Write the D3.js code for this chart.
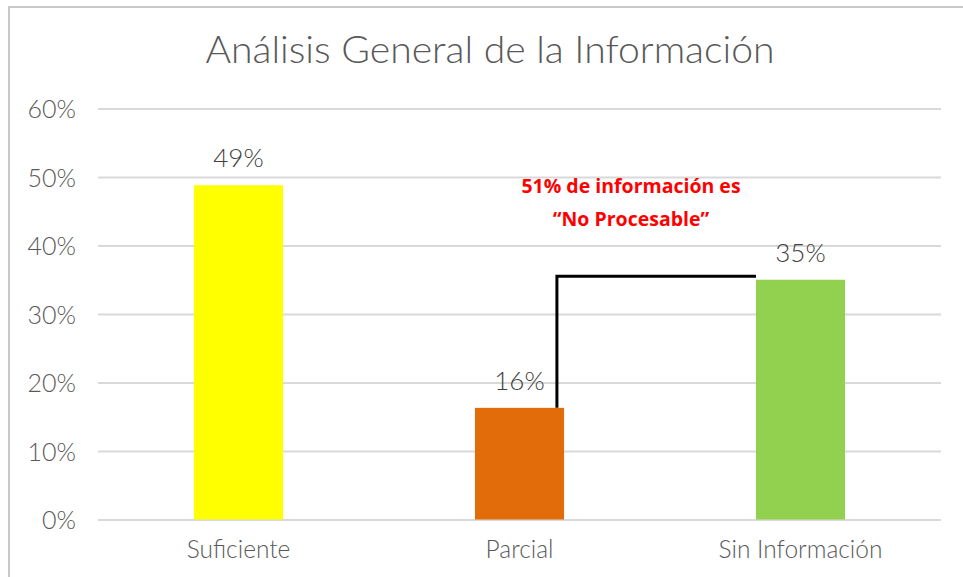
<!DOCTYPE html>
<html>
<head>
<meta charset="utf-8">
<script src="https://cdn.jsdelivr.net/npm/d3@7"></script>
<style>
  body { margin: 0; background: #fff; }
  svg { display: block; font-family: Lato, "Open Sans", sans-serif; }
</style>
</head>
<body>
<div id="chart"></div>
<script>
// chart data
const categories = ["Suficiente", "Parcial", "Sin Información"];
const values = [0.488, 0.163, 0.35];
const barColors = ["#FFFF00", "#E36C0A", "#92D050"];
const labels = ["49%", "16%", "35%"];
const yTicks = [0, 0.1, 0.2, 0.3, 0.4, 0.5, 0.6];
const noteLines = ["51% de información es", "\u201CNo Procesable\u201D"];
const bracketLevel = 0.355;

const w = 963;
const h = 577;

const svg = d3.select("#chart")
  .append("svg")
  .attr("width", w)
  .attr("height", h);

// outer frame
svg.append("path")
  .attr("d", `M9,${h} V7 H${w}`)
  .attr("fill", "none")
  .attr("stroke", "#c9c9c9")
  .attr("stroke-width", 2);

const x = d3.scaleBand()
  .domain(categories)
  .range([98, 941])
  .paddingInner(0.683)
  .paddingOuter(0.3415);

const y = d3.scaleLinear()
  .domain([0, 0.6])
  .range([519.5, 108.5]);

// gridlines + y labels
const yAxis = svg.append("g")
  .attr("transform", "translate(98,0)")
  .call(d3.axisLeft(y).tickValues(yTicks).tickFormat(d3.format(".0%")).tickSize(-843).tickPadding(22))
  .attr("font-family", null)
  .attr("font-size", null);
yAxis.select(".domain").remove();
yAxis.selectAll("line").attr("stroke", "#d9d9d9").attr("stroke-width", 2);
yAxis.selectAll("text")
  .attr("fill", "#595959")
  .style("font-size", "25px")
  .style("font-weight", 300)
  .attr("dy", "0.36em");

// bars
svg.selectAll("rect.bar")
  .data(values)
  .enter()
  .append("rect")
  .attr("class", "bar")
  .attr("x", (d, i) => x(categories[i]))
  .attr("y", d => y(d))
  .attr("width", x.bandwidth())
  .attr("height", d => y(0) - y(d))
  .attr("fill", (d, i) => barColors[i]);

// value labels
svg.selectAll("text.val")
  .data(values)
  .enter()
  .append("text")
  .attr("class", "val")
  .attr("x", (d, i) => x(categories[i]) + x.bandwidth() / 2)
  .attr("y", d => y(d) - 18)
  .attr("text-anchor", "middle")
  .attr("fill", "#404040")
  .style("font-size", "26px")
  .style("font-weight", 300)
  .text((d, i) => labels[i]);

// category labels
svg.selectAll("text.cat")
  .data(categories)
  .enter()
  .append("text")
  .attr("class", "cat")
  .attr("x", d => x(d) + x.bandwidth() / 2)
  .attr("y", 558)
  .attr("text-anchor", "middle")
  .attr("fill", "#595959")
  .style("font-size", "24.5px")
  .style("font-weight", 300)
  .text(d => d);

// bracket from Parcial to Sin Información
const bx0 = x(categories[1]) + x.bandwidth() * 0.92;
const bx1 = x(categories[2]);
svg.append("path")
  .attr("d", `M${bx0},${y(values[1])} V${y(bracketLevel)} H${bx1}`)
  .attr("fill", "none")
  .attr("stroke", "#000")
  .attr("stroke-width", 3);

// note
svg.append("g")
  .selectAll("text")
  .data(noteLines)
  .enter()
  .append("text")
  .attr("x", 631)
  .attr("y", (d, i) => 193 + i * 33)
  .attr("text-anchor", "middle")
  .attr("fill", "#FF0000")
  .style("font-family", "'Open Sans', sans-serif")
  .style("font-size", "19.5px")
  .style("font-weight", 700)
  .text(d => d);

// title
svg.append("text")
  .attr("x", 490)
  .attr("y", 63)
  .attr("text-anchor", "middle")
  .attr("fill", "#595959")
  .style("font-size", "38px")
  .style("font-weight", 300)
  .attr("textLength", 569)
  .attr("lengthAdjust", "spacingAndGlyphs")
  .text("Análisis General de la Información");
</script>
</body>
</html>
